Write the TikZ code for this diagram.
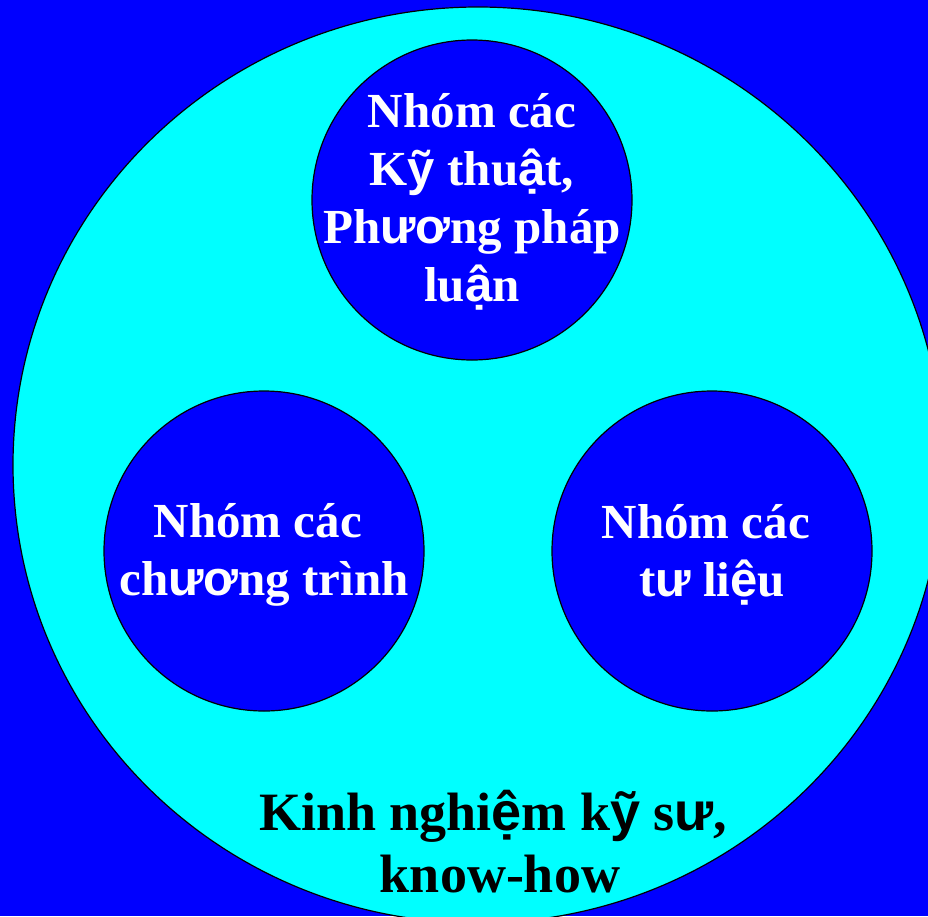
\documentclass[tikz,border=0pt]{standalone}
\usepackage{fontspec}
\setmainfont{Liberation Serif}
\newfontfamily\fallbackfont{Liberation Sans}
\newcommand{\vn}[1]{{\fallbackfont #1}}
\usetikzlibrary{shapes.geometric}
\definecolor{deepblue}{RGB}{0,0,255}
\definecolor{aqua}{RGB}{0,255,255}

\begin{document}
\begin{tikzpicture}[
    x=1pt, y=-1pt,
    outer/.style={ellipse, draw, line width=1.2pt, fill=aqua, minimum width=930pt, minimum height=916pt, inner sep=0pt},
    group/.style={circle, draw, line width=1.2pt, fill=deepblue, minimum size=320pt, inner sep=0pt},
    grouptext/.style={align=center, text=white, font=\bfseries\fontsize{49}{58}\selectfont},
    know/.style={align=center, font=\bfseries\fontsize{54}{62}\selectfont}
]
    \useasboundingbox (0, 0) rectangle (928, 916);
    \clip (0, 0) rectangle (928, 916);
    \fill[deepblue] (0, 0) rectangle (928, 916);

    \node[outer] (exp) at (478, 465) {};

    % the three groups
    \node[group] (tech) at (472, 200) {};
    \node[group] (prog) at (264, 551) {};
    \node[group] (docs) at (712, 551) {};

    \node[grouptext, yshift=-2pt] (techtext) at (tech) {Nhóm các\\K\vn{ỹ} thu\vn{ậ}t,\\Ph\vn{ươ}ng pháp\\lu\vn{ậ}n};
    \node[grouptext, yshift=-4pt] (progtext) at (prog) {Nhóm các\hspace*{0.25em}\\ch\vn{ươ}ng trình};
    \node[grouptext, yshift=-4pt] (docstext) at (docs) {Nhóm các\hspace*{0.25em}\\t\vn{ư} li\vn{ệ}u};

    \node[know, anchor=base] (howto) at (500, 892) {Kinh nghi\vn{ệ}m k\vn{ỹ} s\vn{ư},\hspace*{0.25em}\\know-how};
\end{tikzpicture}
\end{document}
